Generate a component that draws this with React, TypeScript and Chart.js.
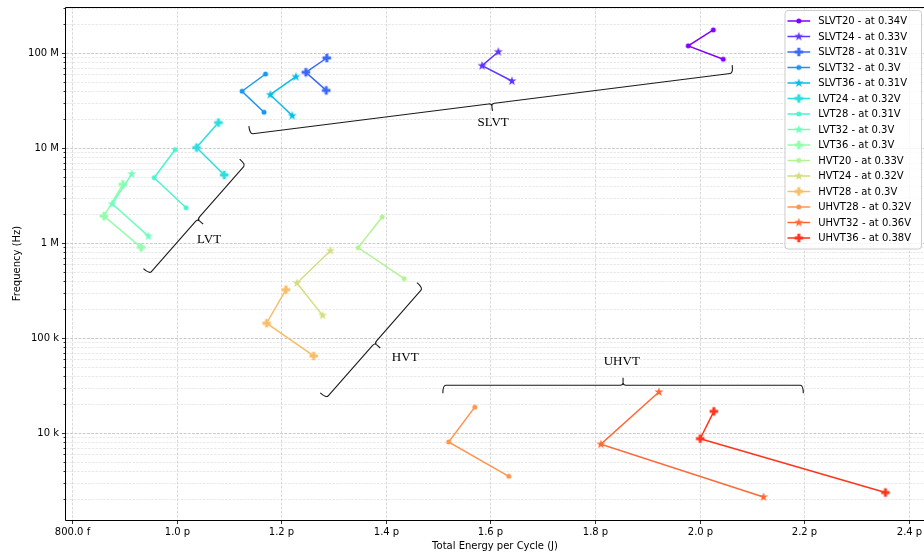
import { useEffect, useRef } from 'react';
import { Chart, registerables } from 'chart.js';

Chart.register(...registerables);

// ---- data ----
const SERIES_NAMES = [
  'SLVT20', 'SLVT24', 'SLVT28', 'SLVT32', 'SLVT36',
  'LVT24', 'LVT28', 'LVT32', 'LVT36',
  'HVT20', 'HVT24', 'HVT28',
  'UHVT28', 'UHVT32', 'UHVT36',
];
const SERIES_VOLTAGES = [
  '0.34V', '0.33V', '0.31V', '0.3V', '0.31V',
  '0.32V', '0.31V', '0.3V', '0.3V',
  '0.33V', '0.32V', '0.3V',
  '0.32V', '0.36V', '0.38V',
];
// total energy per cycle, in pJ (three operating points per series)
const ENERGY_PJ = [
  [2.026, 1.978, 2.045],
  [1.615, 1.584, 1.641],
  [1.287, 1.247, 1.286],
  [1.170, 1.125, 1.167],
  [1.228, 1.179, 1.221],
  [1.080, 1.038, 1.091],
  [0.997, 0.957, 1.018],
  [0.914, 0.877, 0.946],
  [0.897, 0.861, 0.932],
  [1.393, 1.347, 1.435],
  [1.294, 1.230, 1.279],
  [1.209, 1.172, 1.262],
  [1.570, 1.520, 1.635],
  [1.922, 1.811, 2.122],
  [2.027, 2.001, 2.355],
];
// frequency, in Hz
const FREQ_HZ = [
  [1.75e8, 1.19e8, 8.6e7],
  [1.03e8, 7.35e7, 5.07e7],
  [8.86e7, 6.27e7, 4.04e7],
  [6.01e7, 3.96e7, 2.38e7],
  [5.63e7, 3.64e7, 2.19e7],
  [1.85e7, 1.01e7, 5.2e6],
  [9.6e6, 4.87e6, 2.35e6],
  [5.32e6, 2.58e6, 1.18e6],
  [4.15e6, 1.92e6, 9.0e5],
  [1.88e6, 8.93e5, 4.21e5],
  [8.3e5, 3.79e5, 1.73e5],
  [3.22e5, 1.43e5, 6.47e4],
  [1.87e4, 8.04e3, 3.5e3],
  [2.70e4, 7.60e3, 2.12e3],
  [1.69e4, 8.71e3, 2.36e3],
];
const MARKERS = [
  'dot', 'star', 'plus', 'dot', 'star',
  'plus', 'dot', 'star', 'plus',
  'dot', 'star', 'plus',
  'dot', 'star', 'plus',
];
const COLORS = [
  '#8000ff', '#5e35fe', '#3c68f9', '#1a96f3', '#08bee9',
  '#2bdddd', '#4df3ce', '#6ffebe', '#91feab',
  '#b3f396', '#d5dd80', '#f7be68',
  '#ff964f', '#ff6835', '#ff351b',
];

const X_TICKS = [0.8, 1.0, 1.2, 1.4, 1.6, 1.8, 2.0, 2.2, 2.4];
const Y_TICKS = [1e4, 1e5, 1e6, 1e7, 1e8];
const X_MIN = 0.7885;
const X_MAX = 2.4288;
const Y_MIN = 1213;
const Y_MAX = 3.05e8;

// group brackets (annotations)
const GROUP_LABELS = ['SLVT', 'LVT', 'HVT', 'UHVT'];
const GROUP_START_E = [1.140, 1.132, 1.471, 1.509];
const GROUP_START_F = [1.40e7, 6.73e6, 3.36e5, 3.18e4];
const GROUP_END_E = [2.064, 0.948, 1.286, 2.198];
const GROUP_END_F = [6.15e7, 4.72e5, 2.33e4, 3.18e4];
const GROUP_TEXT_E = [1.605, 1.062, 1.437, 1.851];
const GROUP_TEXT_F = [1.865e7, 1.089e6, 6.15e4, 5.58e4];

const SANS = '"DejaVu Sans", sans-serif';
const SERIF = '"Liberation Serif", "DejaVu Serif", serif';

function fmtEnergy(v: number): string {
  if (v < 1 - 1e-9) return (v * 1000).toFixed(1) + ' f';
  return v.toFixed(1) + ' p';
}
function fmtFreq(v: number): string {
  if (v >= 1e6) return Math.round(v / 1e6) + ' M';
  if (v >= 1e3) return Math.round(v / 1e3) + ' k';
  return String(v);
}

function makeMarker(kind: string, color: string): HTMLCanvasElement {
  const s = 12;
  const c = document.createElement('canvas');
  c.width = s;
  c.height = s;
  const g = c.getContext('2d')!;
  g.fillStyle = color;
  g.translate(s / 2, s / 2);
  g.beginPath();
  if (kind === 'dot') {
    g.arc(0, 0, 2.5, 0, Math.PI * 2);
  } else if (kind === 'star') {
    const ro = 4.8, ri = 1.9;
    for (let k = 0; k < 10; k++) {
      const r = k % 2 === 0 ? ro : ri;
      const a = -Math.PI / 2 + (k * Math.PI) / 5;
      const px = r * Math.cos(a), py = r * Math.sin(a);
      if (k === 0) g.moveTo(px, py); else g.lineTo(px, py);
    }
    g.closePath();
  } else {
    const h = 4.3, t = 1.5;
    g.moveTo(-t, -h); g.lineTo(t, -h); g.lineTo(t, -t); g.lineTo(h, -t);
    g.lineTo(h, t); g.lineTo(t, t); g.lineTo(t, h); g.lineTo(-t, h);
    g.lineTo(-t, t); g.lineTo(-h, t); g.lineTo(-h, -t); g.lineTo(-t, -t);
    g.closePath();
  }
  g.fill();
  return c;
}

const gridPlugin = {
  id: 'mplGrid',
  beforeDatasetsDraw(chart: any) {
    const { ctx, chartArea: a, scales } = chart;
    const xs = scales.x, ys = scales.y;
    ctx.save();
    ctx.lineWidth = 0.8;
    // minor y grid
    ctx.strokeStyle = '#e3e3e3';
    ctx.setLineDash([2.5, 1.2]);
    for (let k = 3; k <= 8; k++) {
      for (let m = 2; m <= 9; m++) {
        const v = m * Math.pow(10, k);
        if (v < Y_MIN || v > Y_MAX) continue;
        const py = Math.round(ys.getPixelForValue(v)) + 0.5;
        ctx.beginPath(); ctx.moveTo(a.left, py); ctx.lineTo(a.right, py); ctx.stroke();
      }
    }
    // major grid
    ctx.strokeStyle = '#bdbdbd';
    ctx.setLineDash([2.8, 1.4]);
    for (const v of Y_TICKS) {
      const py = Math.round(ys.getPixelForValue(v)) + 0.5;
      ctx.beginPath(); ctx.moveTo(a.left, py); ctx.lineTo(a.right, py); ctx.stroke();
    }
    ctx.strokeStyle = '#d0d0d0';
    for (const v of X_TICKS) {
      const px = Math.round(xs.getPixelForValue(v)) + 0.5;
      ctx.beginPath(); ctx.moveTo(px, a.top); ctx.lineTo(px, a.bottom); ctx.stroke();
    }
    ctx.restore();
  },
  afterDraw(chart: any) {
    const { ctx, chartArea: a, scales } = chart;
    const xs = scales.x, ys = scales.y;
    ctx.save();
    // spines
    ctx.strokeStyle = '#000';
    ctx.lineWidth = 1;
    ctx.setLineDash([]);
    ctx.beginPath();
    ctx.moveTo(a.right, a.top + 0.5); ctx.lineTo(a.left - 0.5, a.top + 0.5);
    ctx.lineTo(a.left - 0.5, a.bottom + 0.5); ctx.lineTo(a.right, a.bottom + 0.5);
    ctx.stroke();
    // ticks
    ctx.lineWidth = 0.8;
    for (const v of Y_TICKS) {
      const py = Math.round(ys.getPixelForValue(v)) + 0.5;
      ctx.beginPath(); ctx.moveTo(a.left - 4, py); ctx.lineTo(a.left, py); ctx.stroke();
    }
    for (let k = 3; k <= 8; k++) {
      for (let m = 2; m <= 9; m++) {
        const v = m * Math.pow(10, k);
        if (v < Y_MIN || v > Y_MAX) continue;
        const py = Math.round(ys.getPixelForValue(v)) + 0.5;
        ctx.beginPath(); ctx.moveTo(a.left - 2.5, py); ctx.lineTo(a.left, py); ctx.stroke();
      }
    }
    ctx.fillStyle = '#000';
    ctx.font = '10px ' + SANS;
    ctx.textAlign = 'center';
    ctx.textBaseline = 'middle';
    for (const v of X_TICKS) {
      const px = Math.round(xs.getPixelForValue(v)) + 0.5;
      ctx.beginPath(); ctx.moveTo(px, a.bottom); ctx.lineTo(px, a.bottom + 4); ctx.stroke();
      ctx.fillText(fmtEnergy(v), px, a.bottom + 12);
    }
    // axis titles
    ctx.fillText('Total Energy per Cycle (J)', (a.left + a.right) / 2, a.bottom + 26);
    ctx.save();
    ctx.translate(17, (a.top + a.bottom) / 2);
    ctx.rotate(-Math.PI / 2);
    ctx.fillText('Frequency (Hz)', 0, 0);
    ctx.restore();

    // group brackets
    ctx.strokeStyle = '#1a1a1a';
    ctx.lineWidth = 1.1;
    for (let i = 0; i < GROUP_LABELS.length; i++) {
      const x0 = xs.getPixelForValue(GROUP_START_E[i]);
      const y0 = ys.getPixelForValue(GROUP_START_F[i]);
      const x1 = xs.getPixelForValue(GROUP_END_E[i]);
      const y1 = ys.getPixelForValue(GROUP_END_F[i]);
      const tx = xs.getPixelForValue(GROUP_TEXT_E[i]);
      const ty = ys.getPixelForValue(GROUP_TEXT_F[i]);
      const mx = (x0 + x1) / 2, my = (y0 + y1) / 2;
      const dx = x1 - x0, dy = y1 - y0;
      const L = Math.hypot(dx, dy);
      const ux = dx / L, uy = dy / L;
      let nx = -uy, ny = ux;
      if ((tx - mx) * nx + (ty - my) * ny < 0) { nx = -nx; ny = -ny; }
      const e = 8, m = 7.5;
      ctx.beginPath();
      ctx.moveTo(x0 - nx * e, y0 - ny * e);
      ctx.quadraticCurveTo(x0, y0, x0 + ux * 3, y0 + uy * 3);
      ctx.lineTo(mx - ux * 3, my - uy * 3);
      ctx.quadraticCurveTo(mx, my, mx + nx * 2.5, my + ny * 2.5);
      ctx.quadraticCurveTo(mx, my, mx + ux * 3, my + uy * 3);
      ctx.lineTo(x1 - ux * 3, y1 - uy * 3);
      ctx.quadraticCurveTo(x1, y1, x1 - nx * e, y1 - ny * e);
      ctx.stroke();
      ctx.beginPath();
      ctx.moveTo(mx + nx * 2.5, my + ny * 2.5);
      ctx.lineTo(mx + nx * m, my + ny * m);
      ctx.stroke();
      ctx.fillStyle = '#000';
      ctx.font = '13px ' + SERIF;
      ctx.textAlign = 'center';
      ctx.textBaseline = 'middle';
      ctx.fillText(GROUP_LABELS[i], tx, ty);
    }

    // legend
    ctx.font = '10px ' + SANS;
    const labels = chart.data.datasets.map((d: any) => d.label as string);
    let maxW = 0;
    for (const l of labels) maxW = Math.max(maxW, ctx.measureText(l).width);
    const boxR = a.right - 3;
    const boxT = a.top + 3;
    const rowH = 15.5;
    const boxW = 38.7 + maxW + 5;
    const boxH = 11 + rowH * (labels.length - 1) + 10.5;
    const boxL = boxR - boxW;
    ctx.beginPath();
    if (ctx.roundRect) ctx.roundRect(boxL + 0.5, boxT + 0.5, boxW, boxH, 3);
    else ctx.rect(boxL + 0.5, boxT + 0.5, boxW, boxH);
    ctx.fillStyle = 'rgba(255,255,255,0.8)';
    ctx.fill();
    ctx.strokeStyle = '#cccccc';
    ctx.lineWidth = 1;
    ctx.stroke();
    chart.data.datasets.forEach((d: any, i: number) => {
      const cy = boxT + 11 + i * rowH;
      ctx.strokeStyle = d.borderColor;
      ctx.lineWidth = 1.5;
      ctx.beginPath();
      ctx.moveTo(boxL + 3, cy); ctx.lineTo(boxL + 25.7, cy);
      ctx.stroke();
      const img = d.pointStyle as HTMLCanvasElement;
      ctx.drawImage(img, boxL + 14.3 - img.width / 2, cy - img.height / 2);
      ctx.fillStyle = '#000';
      ctx.textAlign = 'left';
      ctx.textBaseline = 'middle';
      ctx.fillText(labels[i], boxL + 33.7, cy + 0.5);
    });
    ctx.restore();
  },
};

export default function App() {
  const ref = useRef<HTMLCanvasElement>(null);
  useEffect(() => {
    document.body.style.margin = '0';
    const canvas = ref.current!;
    const datasets = SERIES_NAMES.map((name, i) => ({
      label: `${name} - at ${SERIES_VOLTAGES[i]}`,
      data: ENERGY_PJ[i].map((e, j) => ({ x: e, y: FREQ_HZ[i][j] })),
      borderColor: COLORS[i],
      backgroundColor: COLORS[i],
      borderWidth: 1.5,
      pointStyle: makeMarker(MARKERS[i], COLORS[i]),
      pointRadius: 3,
      showLine: true,
      fill: false,
      tension: 0,
    }));
    const chart = new Chart(canvas, {
      type: 'scatter',
      data: { datasets } as any,
      options: {
        animation: false,
        responsive: false,
        devicePixelRatio: 1,
        layout: { autoPadding: false, padding: { top: 7, right: 0, left: 0, bottom: 0 } },
        plugins: {
          legend: { display: false },
          tooltip: { enabled: false },
        },
        scales: {
          x: {
            type: 'linear',
            min: X_MIN,
            max: X_MAX,
            afterBuildTicks: (s: any) => { s.ticks = X_TICKS.map((v) => ({ value: v })); },
            afterFit: (s: any) => { s.height = 38; s.paddingLeft = 0; s.paddingRight = 0; },
            grid: { display: false, drawTicks: false },
            border: { display: false },
            ticks: { display: false },
          },
          y: {
            type: 'logarithmic',
            min: Y_MIN,
            max: Y_MAX,
            afterBuildTicks: (s: any) => { s.ticks = Y_TICKS.map((v) => ({ value: v })); },
            afterFit: (s: any) => { s.width = 66; s.paddingTop = 0; s.paddingBottom = 0; },
            grid: { display: false, drawTicks: false },
            border: { display: false },
            ticks: {
              padding: 7,
              color: '#000',
              font: { family: SANS, size: 10 },
              autoSkip: false,
              callback: (v: any) => fmtFreq(Number(v)),
            },
          },
        },
      } as any,
      plugins: [gridPlugin],
    });
    return () => chart.destroy();
  }, []);
  return (
    <div style={{ width: 924, height: 558, position: 'relative', overflow: 'hidden', background: '#fff' }}>
      <canvas ref={ref} width={924} height={558} style={{ display: 'block' }} />
    </div>
  );
}
